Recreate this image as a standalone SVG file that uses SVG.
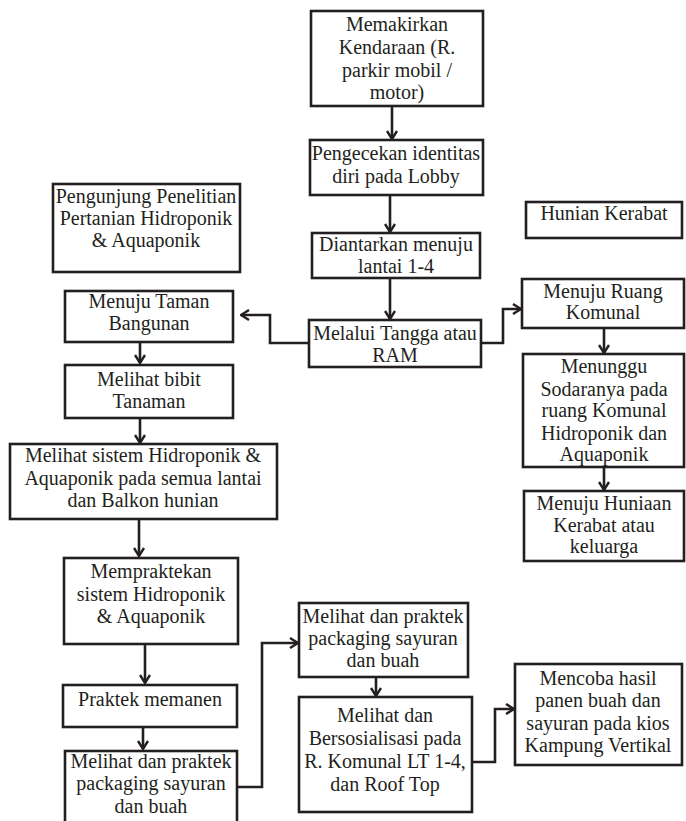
<svg xmlns="http://www.w3.org/2000/svg" width="686" height="821" viewBox="0 0 686 821">
  <style>
    .box { fill: #ffffff; stroke: #231f20; stroke-width: 2.6; }
    .lbl { font-family: "Liberation Serif", "Times New Roman", serif; font-size: 20px; fill: #231f20; text-anchor: middle; }
    .wire { fill: none; stroke: #231f20; stroke-width: 2.6; marker-end: url(#chev); }
  </style>
  <defs>
    <marker id="chev" viewBox="0 0 10 12" refX="9" refY="6" markerWidth="10" markerHeight="12" markerUnits="userSpaceOnUse" orient="auto">
      <path d="M1,1 L9,6 L1,11" fill="none" stroke="#231f20" stroke-width="2.4"/>
    </marker>
  </defs>
  <rect width="686" height="821" fill="#ffffff"/>

  <g id="connectors">
    <path class="wire" d="M392,106 V139"/>
    <path class="wire" d="M390,195 V232"/>
    <path class="wire" d="M390,278 V319"/>
    <path class="wire" d="M309,343 H270 V315 H241"/>
    <path class="wire" d="M481,343 H503 V309 H521"/>
    <path class="wire" d="M140,342 V363"/>
    <path class="wire" d="M140,418 V443"/>
    <path class="wire" d="M139,519 V556"/>
    <path class="wire" d="M145,644 V683"/>
    <path class="wire" d="M143,727 V749"/>
    <path class="wire" d="M237,787 H262 V643 H298"/>
    <path class="wire" d="M376,677 V696"/>
    <path class="wire" d="M472,762 H495 V709 H514"/>
    <path class="wire" d="M604,328 V353"/>
    <path class="wire" d="M604,467 V490"/>
  </g>

  <g id="parkir">
    <rect class="box" x="311" y="11" width="172" height="95"/>
    <text class="lbl" x="397" y="31">Memakirkan</text>
    <text class="lbl" x="397" y="54">Kendaraan (R.</text>
    <text class="lbl" x="397" y="77">parkir mobil /</text>
    <text class="lbl" x="397" y="99">motor)</text>
  </g>

  <g id="lobby">
    <rect class="box" x="310" y="140" width="173" height="55"/>
    <text class="lbl" x="396" y="160">Pengecekan identitas</text>
    <text class="lbl" x="396" y="183">diri pada Lobby</text>
  </g>

  <g id="lantai">
    <rect class="box" x="312" y="233" width="168" height="45"/>
    <text class="lbl" x="396" y="251">Diantarkan menuju</text>
    <text class="lbl" x="396" y="273">lantai 1-4</text>
  </g>

  <g id="tangga">
    <rect class="box" x="309" y="320" width="172" height="47"/>
    <text class="lbl" x="395" y="340">Melalui Tangga atau</text>
    <text class="lbl" x="395" y="362">RAM</text>
  </g>

  <g id="pengunjung">
    <rect class="box" x="53" y="184" width="187" height="88"/>
    <text class="lbl" x="146" y="203">Pengunjung Penelitian</text>
    <text class="lbl" x="146" y="225">Pertanian Hidroponik</text>
    <text class="lbl" x="146" y="247">&amp; Aquaponik</text>
  </g>

  <g id="hunian-kerabat">
    <rect class="box" x="526" y="202" width="156" height="36"/>
    <text class="lbl" x="604" y="220">Hunian Kerabat</text>
  </g>

  <g id="ruang-komunal">
    <rect class="box" x="522" y="279" width="162" height="49"/>
    <text class="lbl" x="603" y="298">Menuju Ruang</text>
    <text class="lbl" x="603" y="319">Komunal</text>
  </g>

  <g id="menunggu">
    <rect class="box" x="523" y="354" width="161" height="113"/>
    <text class="lbl" x="604" y="373">Menunggu</text>
    <text class="lbl" x="604" y="396">Sodaranya pada</text>
    <text class="lbl" x="604" y="417">ruang Komunal</text>
    <text class="lbl" x="604" y="440">Hidroponik dan</text>
    <text class="lbl" x="604" y="461">Aquaponik</text>
  </g>

  <g id="huniaan">
    <rect class="box" x="524" y="491" width="160" height="70"/>
    <text class="lbl" x="604" y="510">Menuju Huniaan</text>
    <text class="lbl" x="604" y="532">Kerabat atau</text>
    <text class="lbl" x="604" y="553">keluarga</text>
  </g>

  <g id="taman">
    <rect class="box" x="65" y="291" width="168" height="51"/>
    <text class="lbl" x="149" y="308">Menuju Taman</text>
    <text class="lbl" x="149" y="330">Bangunan</text>
  </g>

  <g id="bibit">
    <rect class="box" x="65" y="365" width="168" height="53"/>
    <text class="lbl" x="149" y="386">Melihat bibit</text>
    <text class="lbl" x="149" y="408">Tanaman</text>
  </g>

  <g id="sistem">
    <rect class="box" x="10" y="444" width="267" height="75"/>
    <text class="lbl" x="143" y="462">Melihat sistem Hidroponik &amp;</text>
    <text class="lbl" x="143" y="485">Aquaponik pada semua lantai</text>
    <text class="lbl" x="143" y="507">dan Balkon hunian</text>
  </g>

  <g id="mempraktekan">
    <rect class="box" x="64" y="558" width="174" height="86"/>
    <text class="lbl" x="151" y="578">Mempraktekan</text>
    <text class="lbl" x="151" y="601">sistem Hidroponik</text>
    <text class="lbl" x="151" y="623">&amp; Aquaponik</text>
  </g>

  <g id="memanen">
    <rect class="box" x="63" y="685" width="174" height="42"/>
    <text class="lbl" x="150" y="706">Praktek memanen</text>
  </g>

  <g id="packaging-1">
    <rect class="box" x="65" y="751" width="172" height="72"/>
    <text class="lbl" x="151" y="768">Melihat dan praktek</text>
    <text class="lbl" x="151" y="790">packaging sayuran</text>
    <text class="lbl" x="151" y="813">dan buah</text>
  </g>

  <g id="packaging-2">
    <rect class="box" x="299" y="603" width="169" height="74"/>
    <text class="lbl" x="383" y="623">Melihat dan praktek</text>
    <text class="lbl" x="383" y="645">packaging sayuran</text>
    <text class="lbl" x="383" y="667">dan buah</text>
  </g>

  <g id="bersosialisasi">
    <rect class="box" x="299" y="697" width="173" height="115"/>
    <text class="lbl" x="385" y="722">Melihat dan</text>
    <text class="lbl" x="385" y="745">Bersosialisasi pada</text>
    <text class="lbl" x="385" y="768">R. Komunal LT 1-4,</text>
    <text class="lbl" x="385" y="791">dan Roof Top</text>
  </g>

  <g id="kios">
    <rect class="box" x="515" y="664" width="167" height="101"/>
    <text class="lbl" x="598" y="685">Mencoba hasil</text>
    <text class="lbl" x="598" y="707">panen buah dan</text>
    <text class="lbl" x="598" y="730">sayuran pada kios</text>
    <text class="lbl" x="598" y="752">Kampung Vertikal</text>
  </g>
</svg>
